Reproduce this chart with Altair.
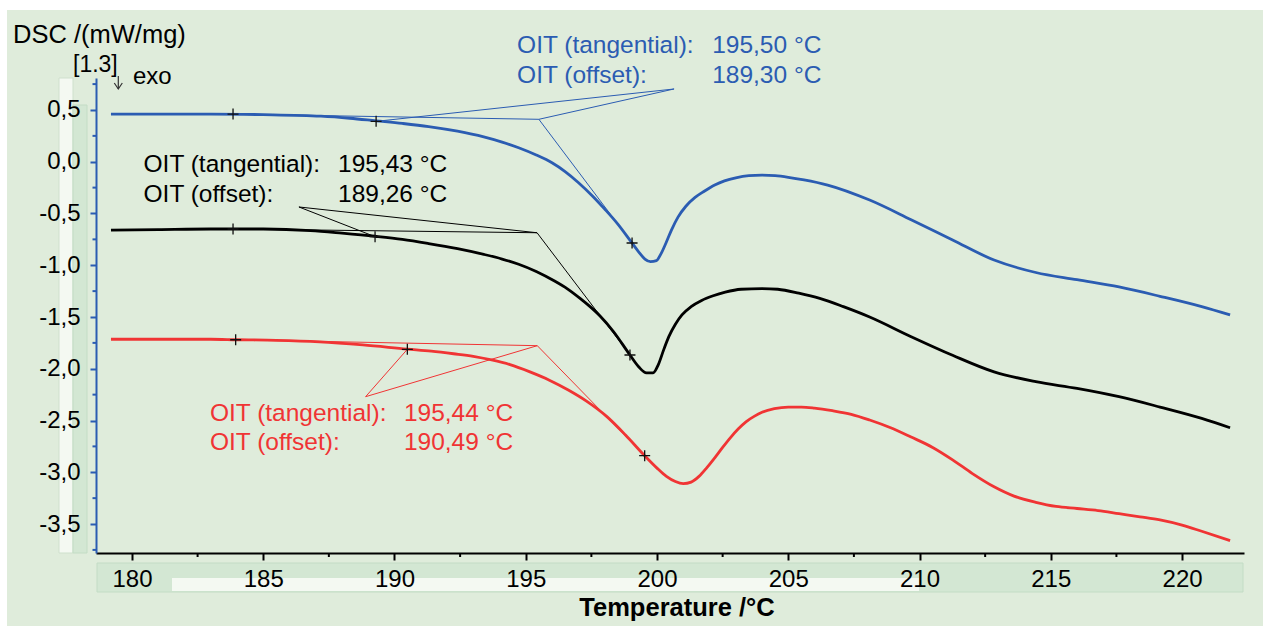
import altair as alt
import pandas as pd

# ---------------- data ----------------
blue_T = [179.2, 181.0, 183.0, 185.0, 187.2, 188.3, 189.3, 190.3, 191.3, 192.4, 193.4, 194.1,
          194.73, 195.4, 196.0, 196.5, 197.0, 197.56, 198.0, 198.5, 199.02, 199.3, 199.54, 199.75,
          199.98, 200.15, 200.35, 200.55, 200.8, 201.1, 201.45, 201.8, 202.2, 202.57, 203.0, 203.5,
          204.0, 204.5, 205.0, 205.6, 206.5, 208.1, 209.68, 211.26, 212.84, 214.43, 216.0, 217.6,
          219.16, 220.75, 221.83]
blue_V = [0.46, 0.46, 0.46, 0.455, 0.44, 0.42, 0.395, 0.37, 0.34, 0.295, 0.24, 0.19,
          0.135, 0.065, -0.01, -0.095, -0.20, -0.335, -0.455, -0.60, -0.775, -0.87, -0.94, -0.965,
          -0.955, -0.89, -0.78, -0.66, -0.535, -0.43, -0.345, -0.285, -0.225, -0.185, -0.155, -0.135,
          -0.13, -0.135, -0.15, -0.175, -0.225, -0.37, -0.56, -0.756, -0.95, -1.07, -1.14, -1.21,
          -1.30, -1.40, -1.48]

black_T = [179.2, 181.0, 183.0, 185.0, 186.8, 188.0, 189.26, 190.3, 191.3, 192.4, 193.4, 194.1,
           194.73, 195.4, 196.08, 196.6, 197.07, 197.45, 197.83, 198.34, 198.97, 199.3, 199.6,
           199.85, 200.05, 200.25, 200.45, 200.7, 200.95, 201.3, 201.7, 202.14, 202.6, 203.2,
           204.0, 204.6, 205.4, 206.2, 207.1, 208.1, 209.68, 211.26, 212.84, 214.43, 216.0,
           217.6, 219.16, 220.75, 221.83]
black_V = [-0.66, -0.655, -0.65, -0.65, -0.665, -0.69, -0.72, -0.75, -0.79, -0.84, -0.895, -0.94,
           -0.99, -1.06, -1.15, -1.23, -1.32, -1.40, -1.49, -1.64, -1.867, -1.98, -2.04,
           -2.04, -1.96, -1.82, -1.69, -1.57, -1.48, -1.40, -1.34, -1.295, -1.26, -1.232,
           -1.225, -1.232, -1.27, -1.32, -1.40, -1.50, -1.69, -1.87, -2.03, -2.125, -2.19,
           -2.27, -2.37, -2.48, -2.57]

red_T = [179.2, 181.0, 183.0, 184.0, 185.5, 187.15, 188.8, 190.49, 191.4, 192.25, 193.0, 193.7,
         194.4, 195.16, 195.9, 196.62, 197.3, 198.08, 198.8, 199.53, 200.0, 200.36, 200.7, 201.0,
         201.3, 201.6, 201.9, 202.2, 202.5, 202.8, 203.1, 203.4, 203.7, 204.0, 204.47, 205.0,
         205.5, 206.0, 206.68, 207.4, 208.1, 208.9, 209.68, 210.5, 211.26, 212.0, 212.84, 213.6,
         214.43, 215.2, 216.0, 216.8, 217.6, 218.4, 219.16, 220.0, 220.75, 221.83]
red_V = [-1.715, -1.715, -1.715, -1.72, -1.725, -1.74, -1.77, -1.81, -1.83, -1.855, -1.88, -1.915,
         -1.96, -2.03, -2.11, -2.205, -2.31, -2.46, -2.64, -2.84, -2.96, -3.04, -3.09, -3.11,
         -3.095, -3.04, -2.955, -2.86, -2.76, -2.665, -2.58, -2.51, -2.46, -2.42, -2.385, -2.37,
         -2.37, -2.38, -2.405, -2.44, -2.495, -2.57, -2.66, -2.76, -2.88, -3.01, -3.14, -3.23,
         -3.29, -3.33, -3.35, -3.37, -3.40, -3.43, -3.46, -3.51, -3.57, -3.66]

# evaluation markers (+)
mark_T = [183.85, 189.30, 199.05, 183.85, 189.26, 198.97, 183.95, 190.49, 199.53]
mark_V = [0.46, 0.39, -0.785, -0.65, -0.724, -1.867, -1.72, -1.812, -2.84]

# construction lines: label anchor, offset point, tangent intersection, baseline start, tangent end
seg_T1 = [200.65, 200.65, 183.85, 195.50, 186.36, 186.36, 183.85, 195.43, 188.90, 188.90, 183.95, 195.44]
seg_V1 = [0.703, 0.703, 0.46, 0.41, -0.437, -0.437, -0.65, -0.686, -2.27, -2.27, -1.72, -1.777]
seg_T2 = [189.30, 195.50, 195.50, 199.05, 189.26, 195.43, 195.43, 198.97, 190.49, 195.44, 195.44, 199.53]
seg_V2 = [0.39, 0.41, 0.41, -0.785, -0.724, -0.686, -0.686, -1.867, -1.812, -1.777, -1.777, -2.84]
seg_S = ["b"] * 4 + ["k"] * 4 + ["r"] * 4

# OIT labels
lab_text = ["OIT (tangential):", "OIT (offset):", "195,50 °C", "189,30 °C",
            "OIT (tangential):", "OIT (offset):", "195,43 °C", "189,26 °C",
            "OIT (tangential):", "OIT (offset):", "195,44 °C", "190,49 °C"]
lab_T = [194.67, 194.67, 202.10, 202.10, 180.44, 180.44, 187.85, 187.85, 182.97, 182.97, 190.36, 190.36]
lab_V = [1.051, 0.761, 1.051, 0.761, -0.099, -0.389, -0.099, -0.389, -2.505, -2.785, -2.505, -2.785]
lab_S = ["b"] * 4 + ["k"] * 4 + ["r"] * 4

x_ticks = [180, 185, 190, 195, 200, 205, 210, 215, 220]
x_minor = [182.5, 187.5, 192.5, 197.5, 202.5, 207.5, 212.5, 217.5]
y_ticks = [0.5, 0.0, -0.5, -1.0, -1.5, -2.0, -2.5, -3.0, -3.5]
y_minor = [0.75, 0.25, -0.25, -0.75, -1.25, -1.75, -2.25, -2.75, -3.25, -3.75]

# ---------------- style ----------------
BLUE = "#2b5cb2"
RED = "#f03434"
BLACK = "#000000"
BG = "#dfecdb"
FONT = "Liberation Sans"
W, H = 1148, 475
col_map = {"b": BLUE, "k": BLACK, "r": RED}

xs = alt.Scale(domain=[178.63, 222.36], nice=False, zero=False)
ys = alt.Scale(domain=[-3.78, 0.809], nice=False, zero=False)

AX = alt.Axis(
    values=x_ticks, title=None, grid=False, zindex=1,
    domainColor=BLACK, domainWidth=2, tickColor=BLACK, tickWidth=2, tickSize=7,
    labelFont=FONT, labelFontSize=24, labelColor=BLACK, labelPadding=7,
    labelFlush=False, labelOverlap=False)
AY = alt.Axis(
    values=y_ticks, title=None, grid=False, zindex=1,
    domainColor=BLUE, domainWidth=2, tickColor=BLUE, tickWidth=2, tickSize=6,
    labelFont=FONT, labelFontSize=24, labelColor=BLACK, labelPadding=10,
    labelFlush=False, labelOverlap=False,
    labelExpr="(datum.value < 0 ? '-' : '') + replace(format(abs(datum.value), '.1f'), '.', ',')")

def X(f):
    return alt.X(f, scale=xs, axis=AX)

def Y(f):
    return alt.Y(f, scale=ys, axis=AY)

one = pd.DataFrame({"d": [0]})

def box(x1, x2, y1, y2, fill, stroke=None):
    kw = dict(fill=fill)
    if stroke:
        kw.update(stroke=stroke, strokeWidth=1)
    else:
        kw.update(strokeWidth=0)
    return alt.Chart(one).mark_rect(**kw).encode(
        x=alt.value(x1), x2=alt.value(x2), y=alt.value(y1), y2=alt.value(y2))

decor = [
    box(-96, 1167, -78, -68, "#ffffff"),          # white top margin
    box(-96, -89, -78, 548, "#ffffff"),            # white left margin
    box(1, 1147, 485, 514, "#d3e7d3", "#c3dcc5"),  # x label panel
    box(76, 823, 500, 513, "#f4f9f2"),             # scroll thumb
    box(-37, -23, 0, 475, "#f4f9f2", "#cfe0cd"),   # y scroll track
    box(-23, -9, 27, 475, "#d3e7d3", "#c3dcc5"),   # y scroll thumb
]

# small "exo" arrow (shaft + head)
arrow_shaft = alt.Chart(one).mark_rule(color="#333333", strokeWidth=1.2).encode(
    x=alt.value(22.3), y=alt.value(-2), y2=alt.value(11))
arrow_head = alt.Chart(one).mark_point(
    shape="M-1,-1.5L0,0L1,-1.5", size=64, filled=False, stroke="#333333", strokeWidth=1.2,
    opacity=1).encode(x=alt.value(22.3), y=alt.value(11))

xminor = alt.Chart(pd.DataFrame({"T": x_minor})).mark_rule(color=BLACK, strokeWidth=2).encode(
    x=X("T:Q"), y=alt.value(H), y2=alt.value(H + 4))
yminor = alt.Chart(pd.DataFrame({"V": y_minor})).mark_rule(color=BLUE, strokeWidth=2).encode(
    y=Y("V:Q"), x=alt.value(0), x2=alt.value(-3.5))

seg_df = pd.DataFrame({"T1": seg_T1, "V1": seg_V1, "T2": seg_T2, "V2": seg_V2, "S": seg_S})
segs = []
for s, c in col_map.items():
    segs.append(alt.Chart(seg_df[seg_df.S == s]).mark_rule(color=c, strokeWidth=1).encode(
        x=X("T1:Q"), y=Y("V1:Q"), x2="T2:Q", y2="V2:Q"))

def curve(T, V, c):
    return alt.Chart(pd.DataFrame({"T": T, "V": V})).mark_line(
        color=c, strokeWidth=2.8, interpolate="monotone").encode(x=X("T:Q"), y=Y("V:Q"))

curves = [curve(blue_T, blue_V, BLUE), curve(black_T, black_V, BLACK), curve(red_T, red_V, RED)]

marks = alt.Chart(pd.DataFrame({"T": mark_T, "V": mark_V})).mark_point(
    shape="M-1,0L1,0M0,-1L0,1", size=121, filled=False, stroke="#111111", strokeWidth=1.3,
    opacity=1).encode(x=X("T:Q"), y=Y("V:Q"))

lab_df = pd.DataFrame({"T": lab_T, "V": lab_V, "S": lab_S, "txt": lab_text})
labels = []
for s, c in col_map.items():
    labels.append(alt.Chart(lab_df[lab_df.S == s]).mark_text(
        align="left", baseline="alphabetic", font=FONT, fontSize=24.5, color=c).encode(
        x=X("T:Q"), y=Y("V:Q"), text="txt:N"))

def ptext(txt, x, y, size=24, align="left", weight="normal", color=BLACK):
    return alt.Chart(one).mark_text(
        text=txt, align=align, baseline="alphabetic", font=FONT, fontSize=size,
        fontWeight=weight, color=color).encode(x=alt.value(x), y=alt.value(y))

texts = [
    ptext("DSC /(mW/mg)", -83, -35, size=25.5),
    ptext("[1.3]", -23, -6, size=23),
    ptext("exo", 37, 6),
    ptext("Temperature /°C", 581, 538, size=25.5, align="center", weight="bold"),
]

chart = alt.layer(
    *decor, xminor, yminor, arrow_shaft, arrow_head, *segs, *curves, marks, *labels, *texts
).properties(
    width=W, height=H,
    autosize=alt.AutoSizeParams(type="none"),
    padding={"left": 96, "top": 78, "right": 19, "bottom": 73},
    background=BG,
).configure_view(stroke=None)

chart.save("out.html", embed_options={"renderer": "svg", "actions": False})
